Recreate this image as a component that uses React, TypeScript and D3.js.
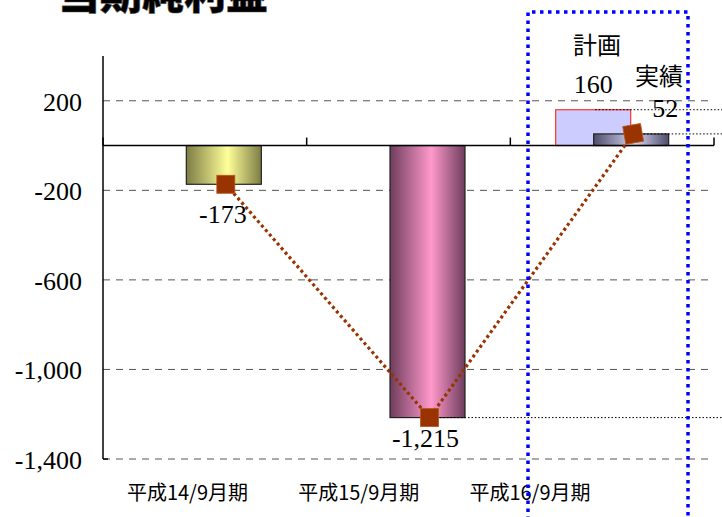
import React from "react";
import * as d3 from "d3";

const categories = ["平成14/9月期", "平成15/9月期", "平成16/9月期"];
const actualValues = [-173, -1215, 52];
const planValues: (number | null)[] = [null, null, 160];
const actualLabels = ["-173", "-1,215", "52"];
const planLabels = ["", "", "160"];
const yTicks = [200, -200, -600, -1000, -1400];
const title = "当期純利益";
const planName = "計画";
const actualName = "実績";

const W = 722;
const H = 517;

const gradStops = [
  { id: "g0", dark: "#7d7d45", light: "#ffff99" },
  { id: "g1", dark: "#6e3d5c", light: "#ff99cc" },
  { id: "g2", dark: "#4d4d6b", light: "#d6d6f5" },
];

export default function App() {
  const y = d3.scaleLinear().domain([-1400, 400]).range([459, 56]);
  const x = d3.scaleBand<string>().domain(categories).range([103, 714]).padding(0);
  const labelX = d3.scalePoint<string>().domain(categories).range([187.5, 530]);
  const bw = 75;
  const center = (c: string) => (x(c) as number) + x.bandwidth() / 2;
  const actualX = (c: string) => center(c) + 19;
  const planX = (c: string) => center(c) - 19;
  const markerX = (c: string) => actualX(c) + 2;
  const fmt = (v: number) => d3.format(",")(v).replace("\u2212", "-");
  const y0 = y(0);

  const linePts: [number, number][] = categories.map((c, i) => [markerX(c), y(actualValues[i])]);
  const line = d3.line()(linePts) as string;

  const actualLabelDy = [39, 29, -17];
  const actualLabelDx = [-1, -2, 34];
  const markerRot = [0, 0, -10];

  return (
    <svg width={W} height={H} style={{ position: "absolute", left: 0, top: 0, background: "#fff" }}>
      <defs>
        {gradStops.map((g) => (
          <linearGradient key={g.id} id={g.id} x1="0" x2="1" y1="0" y2="0">
            <stop offset="0" stopColor={g.dark} />
            <stop offset="0.55" stopColor={g.light} />
            <stop offset="1" stopColor={g.dark} />
          </linearGradient>
        ))}
      </defs>

      {/* title */}
      <text x={58} y={9} fontFamily="Noto Sans CJK JP" fontWeight={900} fontSize={42} fill="#000"
        stroke="#555" strokeWidth={0.6}>
        {title}
      </text>

      {/* gridlines */}
      {yTicks.map((t) => (
        <line key={t} x1={103} x2={714} y1={y(t)} y2={y(t)} stroke="#555" strokeWidth={1} strokeDasharray="7 6" />
      ))}
      {/* y tick labels */}
      {yTicks.map((t) => (
        <text key={"l" + t} x={82} y={y(t) + 10} textAnchor="end" fontFamily="Liberation Serif" fontSize={26} fill="#000">
          {fmt(t)}
        </text>
      ))}

      {/* plan bars */}
      {categories.map((c, i) =>
        planValues[i] == null ? null : (
          <rect key={"p" + c} x={planX(c) - bw / 2} y={y(planValues[i] as number)} width={bw}
            height={y0 - y(planValues[i] as number)} fill="#ccccff" stroke="#ff3333" strokeWidth={1.2} />
        )
      )}
      {/* actual bars */}
      {categories.map((c, i) => {
        const v = actualValues[i];
        const top = Math.min(y(v), y0);
        return (
          <rect key={"a" + c} x={actualX(c) - bw / 2} y={top} width={bw} height={Math.abs(y(v) - y0)}
            fill={`url(#g${i})`} stroke="#222" strokeWidth={1.2} />
        );
      })}

      {/* axes */}
      <line x1={103} x2={103} y1={56} y2={459} stroke="#000" strokeWidth={1.5} />
      <line x1={103} x2={108} y1={459} y2={459} stroke="#000" strokeWidth={1.5} />
      <line x1={103} x2={714} y1={y0} y2={y0} stroke="#000" strokeWidth={1.5} />
      {[...categories.map((c) => x(c) as number), 714].map((t, i) => (
        <line key={"t" + i} x1={t} x2={t} y1={y0 - 8} y2={y0} stroke="#000" strokeWidth={1.5} />
      ))}

      {/* leader lines */}
      {categories.map((c, i) =>
        planValues[i] == null ? null : (
          <line key={"pl" + c} x1={planX(c) + 2} x2={W} y1={y(planValues[i] as number)} y2={y(planValues[i] as number)}
            stroke="#000" strokeWidth={1} strokeDasharray="1.5 2" />
        )
      )}
      {categories.map((c, i) =>
        i === 0 ? null : (
          <line key={"al" + c} x1={markerX(c)} x2={W} y1={y(actualValues[i])} y2={y(actualValues[i])}
            stroke="#000" strokeWidth={1} strokeDasharray="1.5 2" />
        )
      )}

      {/* dotted line */}
      <path d={line} fill="none" stroke="#993300" strokeWidth={3.2} strokeDasharray="3 3" />
      {linePts.map(([px, py], i) => (
        <rect key={"m" + i} x={px - 9} y={py - 9} width={18} height={18} fill="#993300" stroke="#b8561f" strokeWidth={0.8}
          transform={`rotate(${markerRot[i]} ${px} ${py})`} />
      ))}

      {/* value labels */}
      {categories.map((c, i) => (
        <text key={"v" + c} x={actualX(c) + actualLabelDx[i]} y={y(actualValues[i]) + actualLabelDy[i]} textAnchor="middle"
          fontFamily="Liberation Serif" fontSize={26} fill="#000">
          {actualLabels[i]}
        </text>
      ))}
      {categories.map((c, i) =>
        planValues[i] == null ? null : (
          <text key={"pv" + c} x={planX(c)} y={y(planValues[i] as number) - 17} textAnchor="middle"
            fontFamily="Liberation Serif" fontSize={26} fill="#000">
            {planLabels[i]}
          </text>
        )
      )}
      <text x={597} y={54} textAnchor="middle" fontFamily="Noto Sans CJK JP" fontSize={24} fill="#000">{planName}</text>
      <text x={659} y={85} textAnchor="middle" fontFamily="Noto Sans CJK JP" fontSize={24} fill="#000">{actualName}</text>

      {/* category labels */}
      {categories.map((c) => (
        <text key={"c" + c} x={labelX(c)} y={500} textAnchor="middle" fontFamily="Noto Sans CJK JP" fontSize={20} fill="#000">
          {c}
        </text>
      ))}

      {/* blue highlight box */}
      <path d="M528,520 L528,12 L688,12 L688,520" fill="none" stroke="#0000ff" strokeWidth={3.5} strokeDasharray="3.5 4.5" />
    </svg>
  );
}
